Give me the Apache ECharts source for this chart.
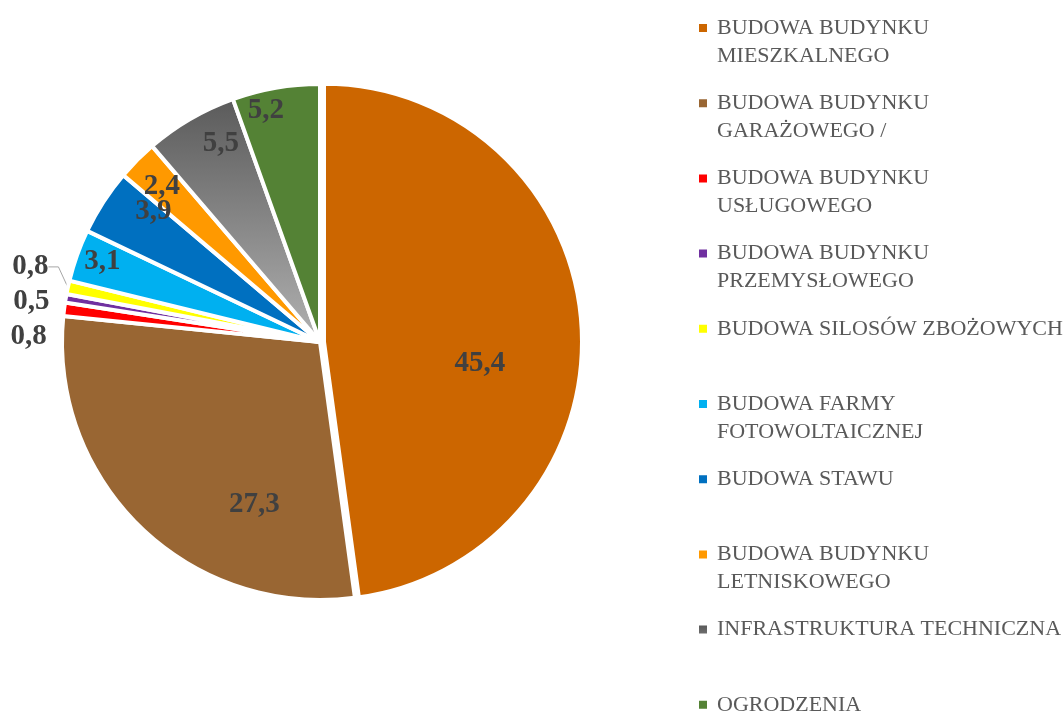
<!DOCTYPE html>
<html><head><meta charset="utf-8">
<script src="https://cdn.jsdelivr.net/npm/echarts@6/dist/echarts.min.js"></script>
<style>html,body{margin:0;padding:0;background:#fff}#c{width:1064px;height:713px}</style>
</head><body><div id="c"></div>
<script>
// ---- data ----
const categories = [
  'BUDOWA BUDYNKU MIESZKALNEGO',
  'BUDOWA BUDYNKU GARAŻOWEGO /',
  'BUDOWA BUDYNKU USŁUGOWEGO',
  'BUDOWA BUDYNKU PRZEMYSŁOWEGO',
  'BUDOWA SILOSÓW ZBOŻOWYCH',
  'BUDOWA FARMY FOTOWOLTAICZNEJ',
  'BUDOWA STAWU',
  'BUDOWA BUDYNKU LETNISKOWEGO',
  'INFRASTRUKTURA TECHNICZNA',
  'OGRODZENIA'
];
const values = [45.4, 27.3, 0.8, 0.5, 0.8, 3.1, 3.9, 2.4, 5.5, 5.2];
const legendTexts = [
  'BUDOWA BUDYNKU\nMIESZKALNEGO',
  'BUDOWA BUDYNKU\nGARAŻOWEGO /',
  'BUDOWA BUDYNKU\nUSŁUGOWEGO',
  'BUDOWA BUDYNKU\nPRZEMYSŁOWEGO',
  'BUDOWA SILOSÓW ZBOŻOWYCH\n ',
  'BUDOWA FARMY\nFOTOWOLTAICZNEJ',
  'BUDOWA STAWU\n ',
  'BUDOWA BUDYNKU\nLETNISKOWEGO',
  'INFRASTRUKTURA TECHNICZNA\n ',
  'OGRODZENIA\n '
];

// ---- style ----
const CX = 320, CY = 342, R = 258;
const EXPLODE = 4;          // offset of the first (exploded) slice
const explodedIdx = 0;
const grayGrad = new echarts.graphic.LinearGradient(0, 0, 0, 1, [
  {offset: 0, color: '#5a5a5a'}, {offset: 1, color: '#b2b2b2'}
]);
const colors = ['#CC6600', '#996633', '#FF0000', '#7030A0', '#FFFF00',
  '#00B0F0', '#0070C0', '#FF9900', grayGrad, '#548235'];
// label placement: clockwise angular shift (deg) from slice middle, radius fraction
const labelShift = [12, -22, -6.3, -1.8, 2.3, 0.7, 5.1, -0.3, 3.6, -3.3];
const labelRadius = [0.61, 0.68, 1.13, 1.13, 1.16, 0.90, 0.82, 0.86, 0.86, 0.92];
const outsideIdx = [2, 3, 4];
const TRANSPARENT = 'rgba(0,0,0,0)';

const total = values.reduce((a, b) => a + b, 0);
const midAngles = [];
let cum = 0;
values.forEach(v => { midAngles.push((cum + v / 2) / total * 360); cum += v; });
const exA = midAngles[explodedIdx] * Math.PI / 180;
const exDX = EXPLODE * Math.sin(exA), exDY = -EXPLODE * Math.cos(exA);

// main series: every slice except the exploded one (kept transparent, but carries its label)
const mainData = categories.map((name, i) => {
  const outside = outsideIdx.indexOf(i) >= 0;
  const ex = i === explodedIdx;
  return {
    name: name,
    value: values[i],
    itemStyle: ex ? {color: TRANSPARENT, borderWidth: 0} : {color: colors[i]},
    label: {position: outside ? 'outside' : 'inside'},
    labelLine: {show: i === 4, length: 6, length2: 10, lineStyle: {color: '#a6a6a6', width: 1}}
  };
});
// exploded series: only the exploded slice visible, shifted outward
const explodeData = categories.map((name, i) => ({
  name: name,
  value: values[i],
  itemStyle: i === explodedIdx ? {color: colors[i]} : {color: TRANSPARENT, borderWidth: 0}
}));

const chart = echarts.init(document.getElementById('c'), null, {renderer: 'canvas'});
chart.setOption({
  animation: false,
  backgroundColor: '#ffffff',
  legend: {
    orient: 'vertical',
    left: 699,
    top: 14,
    height: 800,
    padding: 0,
    itemGap: 19.2,
    itemWidth: 13,
    itemHeight: 36,
    icon: 'path://M0,0L10,0L10,10L0,10Z M16.24,44.99L16.25,44.99L16.25,45Z',
    itemStyle: {borderWidth: 0},
    selectedMode: false,
    data: categories.map((name, i) => ({name: name, itemStyle: {color: colors[i], borderWidth: 0}})),
    formatter: name => legendTexts[categories.indexOf(name)],
    textStyle: {fontFamily: 'Liberation Serif', fontSize: 22, color: '#595959', lineHeight: 28}
  },
  series: [{
    type: 'pie',
    z: 1,
    silent: true,
    center: [CX + exDX, CY + exDY],
    radius: [0, R],
    startAngle: 90,
    clockwise: true,
    itemStyle: {borderColor: '#ffffff', borderWidth: 4},
    label: {show: false},
    labelLine: {show: false},
    emphasis: {disabled: true},
    data: explodeData
  }, {
    type: 'pie',
    z: 2,
    center: [CX, CY],
    radius: [0, R],
    startAngle: 90,
    clockwise: true,
    avoidLabelOverlap: false,
    itemStyle: {borderColor: '#ffffff', borderWidth: 4},
    emphasis: {disabled: true},
    label: {
      show: true,
      formatter: p => String(p.value).replace('.', ','),
      fontFamily: 'Liberation Serif',
      fontWeight: 'bold',
      fontSize: 29,
      color: '#404040'
    },
    labelLayout: function (p) {
      const i = p.dataIndex;
      const a = (midAngles[i] + labelShift[i]) * Math.PI / 180;
      const rr = labelRadius[i] * R;
      const ox = i === explodedIdx ? exDX : 0, oy = i === explodedIdx ? exDY : 0;
      return {
        x: CX + ox + rr * Math.sin(a),
        y: CY + oy - rr * Math.cos(a),
        align: 'center',
        verticalAlign: 'middle'
      };
    },
    data: mainData
  }]
});
</script></body></html>
